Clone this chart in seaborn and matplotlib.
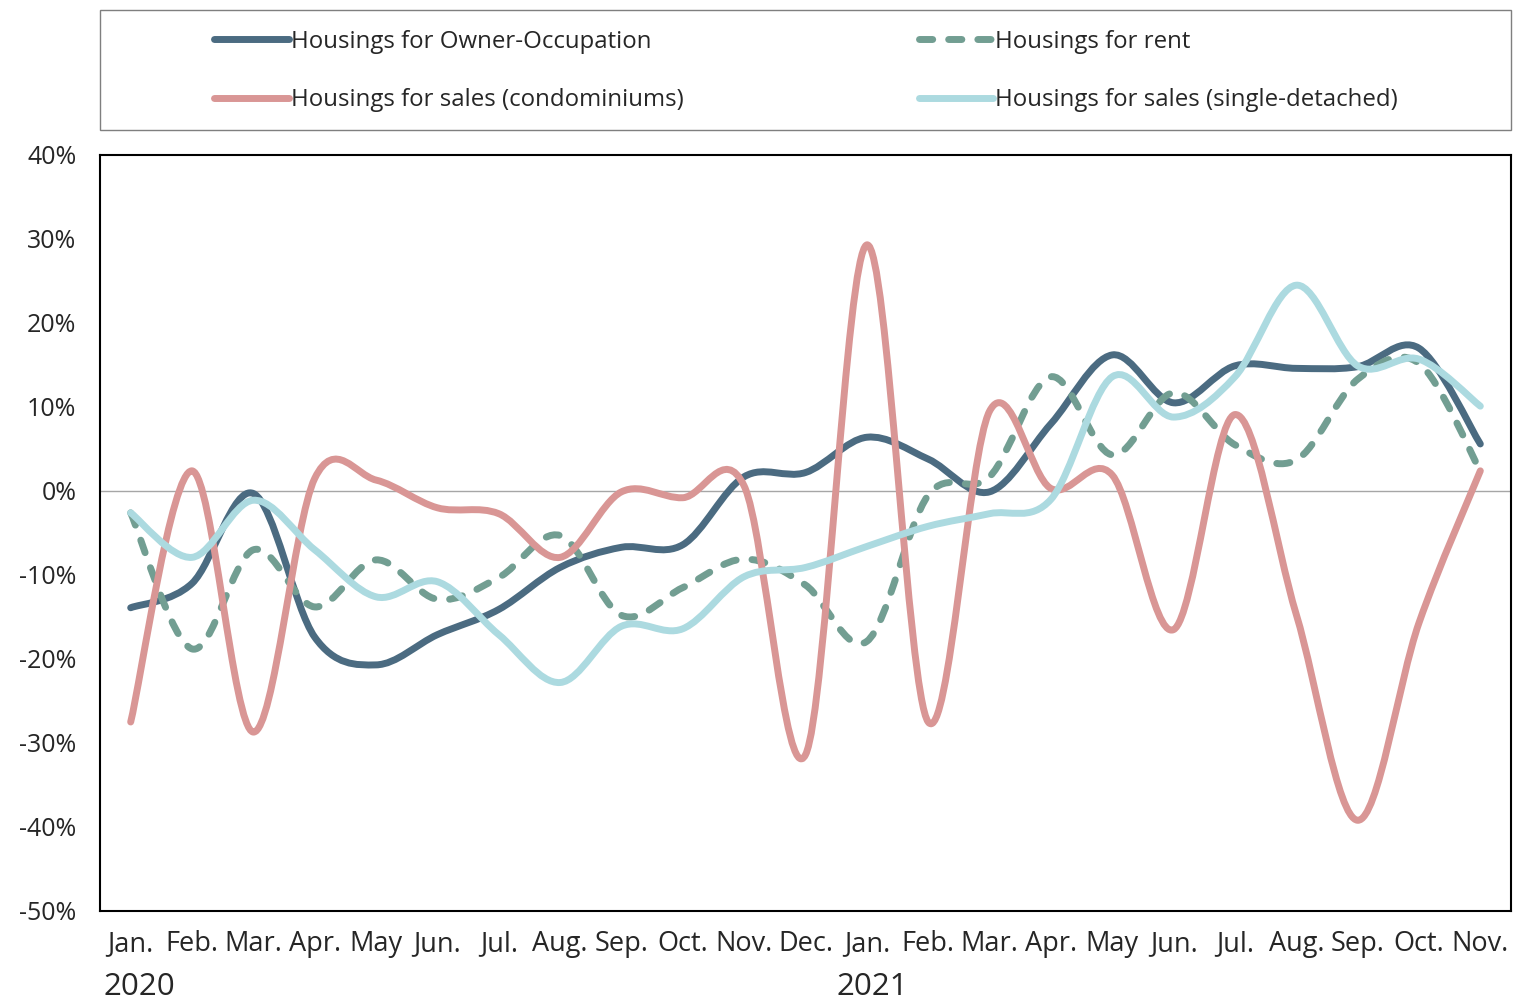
import numpy as np
import matplotlib
matplotlib.use('Agg')
import matplotlib.pyplot as plt
import matplotlib.transforms as mtransforms
from matplotlib.path import Path
from matplotlib.patches import PathPatch, Rectangle
from matplotlib.lines import Line2D
import seaborn as sns

# --- Data (year-on-year change, %) ---
months = ["Jan.", "Feb.", "Mar.", "Apr.", "May", "Jun.", "Jul.", "Aug.", "Sep.", "Oct.", "Nov.", "Dec.",
          "Jan.", "Feb.", "Mar.", "Apr.", "May", "Jun.", "Jul.", "Aug.", "Sep.", "Oct.", "Nov."]
years = ["2020", "2021"]

owner = [-13.9, -11.0, -0.3, -17.4, -20.7, -17.1, -14.1, -9.1, -6.7, -6.4, 1.7, 2.2,
         6.4, 3.8, -0.1, 8.0, 16.2, 10.5, 14.9, 14.6, 14.8, 17.0, 5.6]
rent = [-2.6, -18.8, -7.0, -13.8, -8.2, -12.9, -10.3, -5.3, -14.8, -11.5, -8.1, -11.2,
        -17.9, -0.5, 1.7, 13.6, 4.3, 11.7, 5.5, 3.7, 13.3, 15.2, 2.4]
condo = [-27.5, 2.4, -28.7, 1.5, 1.3, -2.0, -2.7, -7.9, -0.1, -0.8, 0.6, -31.4,
         29.3, -27.5, 9.5, 0.3, 1.9, -16.5, 9.1, -14.7, -39.2, -15.7, 2.4]
detached = [-2.6, -7.9, -1.1, -7.0, -12.6, -10.8, -17.1, -22.8, -16.1, -16.4, -10.2, -9.1,
            -6.6, -4.2, -2.7, -1.0, 13.6, 8.8, 13.6, 24.5, 14.9, 15.7, 10.1]

labels = ["Housings for Owner-Occupation", "Housings for rent",
          "Housings for sales (condominiums)", "Housings for sales (single-detached)"]
colors = ["#4b6b81", "#729e92", "#d99695", "#acdae0"]
series = [owner, rent, condo, detached]
styles = ["-", (0, (1.9, 2.3)), "-", "-"]


def smooth_path(xs, ys):
    # Excel-style smoothed line: cubic Bezier through every data point
    pts = np.column_stack([xs, ys]).astype(float)
    ext = np.vstack([pts[0], pts, pts[-1]])
    verts = [pts[0]]
    codes = [Path.MOVETO]
    for i in range(len(pts) - 1):
        p0, p1, p2, p3 = ext[i], ext[i + 1], ext[i + 2], ext[i + 3]
        verts += [p1 + (p2 - p0) / 6, p2 - (p3 - p1) / 6, p2]
        codes += [Path.CURVE4] * 3
    return Path(verts, codes)


sns.set_style("white")
plt.rcParams['font.family'] = ['Open Sans', 'DejaVu Sans']

fig = plt.figure(figsize=(15.13, 10), dpi=100)
ax = fig.add_axes([100 / 1513, 89 / 1000, 1411 / 1513, 756 / 1000])

x = np.arange(len(months))
for vals, col, ls in zip(series, colors, styles):
    ax.add_patch(PathPatch(smooth_path(x, vals), fill=False, edgecolor=col, lw=5,
                           linestyle=ls, capstyle='round', joinstyle='round', zorder=3))
ax.axhline(0, color='#a6a6a6', lw=1, zorder=1)

ax.set_xlim(-0.5, len(months) - 0.5)
ax.set_ylim(-50, 40)
ax.set_yticks(range(-50, 41, 10))
ax.set_yticklabels([f"{v}%" for v in range(-50, 41, 10)], fontsize=18)
ax.set_xticks(x)
ax.set_xticklabels(months, fontsize=19.5)
ax.tick_params(axis='both', length=0)
ax.tick_params(axis='y', pad=17)
ax.tick_params(axis='x', pad=14)
for sp in ax.spines.values():
    sp.set_visible(True)
    sp.set_color('black')
    sp.set_linewidth(1.5)

trans = mtransforms.blended_transform_factory(ax.transData, ax.transAxes)
ax.text(-0.44, -0.101, years[0], transform=trans, ha='left', va='center', fontsize=22.5)
ax.text(11.51, -0.101, years[1], transform=trans, ha='left', va='center', fontsize=22.5)

# legend in a box above the plot
fig.patches.append(Rectangle((100 / 1513, 1 - 130 / 1000), 1411 / 1513, 120 / 1000,
                             transform=fig.transFigure, fill=False, edgecolor='#7f7f7f', lw=1))
handles = [Line2D([], [], color=c, lw=5, linestyle=s, solid_capstyle='round',
                  dash_capstyle='round') for c, s in zip(colors, styles)]
order = [0, 2, 1, 3]
fig.legend([handles[i] for i in order], [labels[i] for i in order], loc='center',
           bbox_to_anchor=(806 / 1513, 1 - 71 / 1000), ncol=2, frameon=False, fontsize=17.3,
           handlelength=3.1, handletextpad=0.08, columnspacing=9.8, labelspacing=1.45)

fig.savefig("out.png", dpi=100)
